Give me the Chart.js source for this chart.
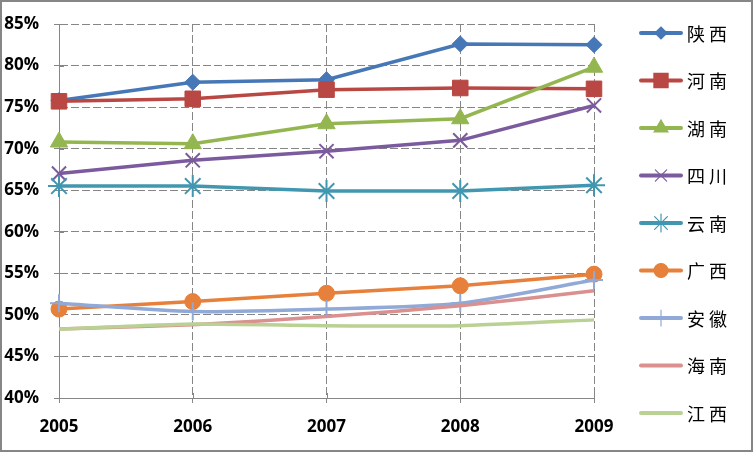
<!DOCTYPE html>
<html>
<head>
<meta charset="utf-8">
<script src="https://cdn.jsdelivr.net/npm/chart.js@4"></script>
<style>
  html, body { margin: 0; padding: 0; background: #fff; }
  #wrap { width: 753px; height: 452px; box-sizing: border-box; border: 2px solid #868686; position: relative; }
  canvas { display: block; }
</style>
</head>
<body>
<div id="wrap"><canvas id="c" width="749" height="448"></canvas></div>
<script>
const years = ['2005', '2006', '2007', '2008', '2009'];
const regions = ['陕 西', '河 南', '湖 南', '四 川', '云 南', '广 西', '安 徽', '海 南', '江 西'];

const shaanxi  = [75.8, 78.0, 78.3, 82.6, 82.5];
const henan    = [75.7, 76.0, 77.1, 77.3, 77.2];
const hunan    = [70.8, 70.6, 73.0, 73.6, 79.8];
const sichuan  = [67.0, 68.6, 69.7, 71.0, 75.2];
const yunnan   = [65.5, 65.5, 64.9, 64.9, 65.6];
const guangxi  = [50.7, 51.6, 52.6, 53.5, 54.9];
const anhui    = [51.4, 50.4, 50.7, 51.4, 54.2];
const hainan   = [48.3, 48.8, 49.8, 51.1, 52.9];
const jiangxi  = [48.3, 48.9, 48.7, 48.7, 49.4];

const yTicks = [40, 45, 50, 55, 60, 65, 70, 75, 80, 85];

const seriesValues = [shaanxi, henan, hunan, sichuan, yunnan, guangxi, anhui, hainan, jiangxi];
const colors = ['#4677B6', '#B94743', '#94B650', '#7B5A9E', '#4197B0', '#E6803A', '#90A9D6', '#D9908F', '#B9D193'];
const markers = ['rectRot', 'rect', 'triangle', 'crossRot', 'star', 'circle', 'cross', false, false];
const markerSize = [8, 11, 10, 10, 11, 8, 9, 0, 0];
const legendSize = [6, 10, 8, 8, 9, 7, 8, 0, 0];
const tensions = [0, 0, 0, 0, 0, 0, 0.25, 0.2, 0.15];

const font = { family: '"Open Sans", sans-serif', size: 17, weight: 'bold' };
const axisGray = '#868686';

// short tick marks that cross into the plot area
const innerTicks = {
    id: 'innerTicks',
    beforeDatasetsDraw(chart) {
        const { ctx, chartArea, scales } = chart;
        ctx.save();
        ctx.strokeStyle = axisGray;
        ctx.lineWidth = 1;
        yTicks.forEach(v => {
            const y = Math.round(scales.y.getPixelForValue(v)) + 0.5;
            ctx.beginPath();
            ctx.moveTo(chartArea.left, y);
            ctx.lineTo(chartArea.left + 5, y);
            ctx.stroke();
        });
        years.forEach((_, i) => {
            const x = Math.round(scales.x.getPixelForValue(i)) + 0.5;
            ctx.beginPath();
            ctx.moveTo(x, chartArea.bottom);
            ctx.lineTo(x, chartArea.bottom - 5);
            ctx.stroke();
        });
        ctx.restore();
    }
};

// legend drawn by hand: line + marker + text, like the office-style legend
const sideLegend = {
    id: 'sideLegend',
    afterDraw(chart) {
        const ctx = chart.ctx;
        ctx.save();
        regions.forEach((name, i) => {
            const y = 31 + i * 47.5;
            ctx.strokeStyle = colors[i];
            ctx.lineWidth = 4;
            ctx.lineCap = 'round';
            ctx.beginPath();
            ctx.moveTo(639, y);
            ctx.lineTo(679, y);
            ctx.stroke();
            if (markers[i]) {
                ctx.fillStyle = colors[i];
                ctx.strokeStyle = colors[i];
                ctx.lineWidth = 1.2;
                Chart.helpers.drawPoint(ctx, { pointStyle: markers[i], radius: legendSize[i], rotation: 0, borderWidth: 1.2 }, 659, y);
            }
            ctx.fillStyle = '#000';
            ctx.font = '18px "Noto Sans CJK SC", sans-serif';
            ctx.textBaseline = 'middle';
            ctx.textAlign = 'left';
            ctx.fillText(name, 685, y + 1);
        });
        ctx.restore();
    }
};

new Chart(document.getElementById('c'), {
    type: 'line',
    data: {
        labels: years,
        datasets: regions.map((name, i) => ({
            label: name,
            data: seriesValues[i],
            borderColor: colors[i],
            backgroundColor: colors[i],
            borderWidth: 3.5,
            tension: tensions[i],
            pointStyle: markers[i],
            pointRadius: markerSize[i],
            pointBorderWidth: (markers[i] === 'cross' || markers[i] === 'crossRot' || markers[i] === 'star') ? 2 : 1,
            pointBorderColor: colors[i],
            pointBackgroundColor: colors[i],
            order: 9 - i
        }))
    },
    options: {
        responsive: false,
        animation: false,
        layout: { padding: { left: 0, top: 22, right: 157, bottom: 0 } },
        plugins: { legend: { display: false }, tooltip: { enabled: false } },
        scales: {
            x: {
                offset: false,
                grid: { color: axisGray, lineWidth: 1, drawTicks: true, tickLength: 5 },
                border: { color: axisGray, width: 1, dash: [8, 3] },
                ticks: { color: '#000', font, padding: 14, maxRotation: 0 },
                afterFit: (s) => { s.height = 52; s.paddingLeft = 0; s.paddingRight = 0; }
            },
            y: {
                min: 40,
                max: 85,
                afterBuildTicks: (s) => { s.ticks = yTicks.map(v => ({ value: v })); },
                grid: { color: axisGray, lineWidth: 1, drawTicks: true, tickLength: 5 },
                border: { color: axisGray, width: 1, dash: [8, 3] },
                ticks: { color: '#000', font, padding: 15, callback: (v) => v + '%' },
                afterFit: (s) => { s.width = 57; s.paddingTop = 0; s.paddingBottom = 0; }
            }
        }
    },
    plugins: [innerTicks, sideLegend]
});
</script>
</body>
</html>
